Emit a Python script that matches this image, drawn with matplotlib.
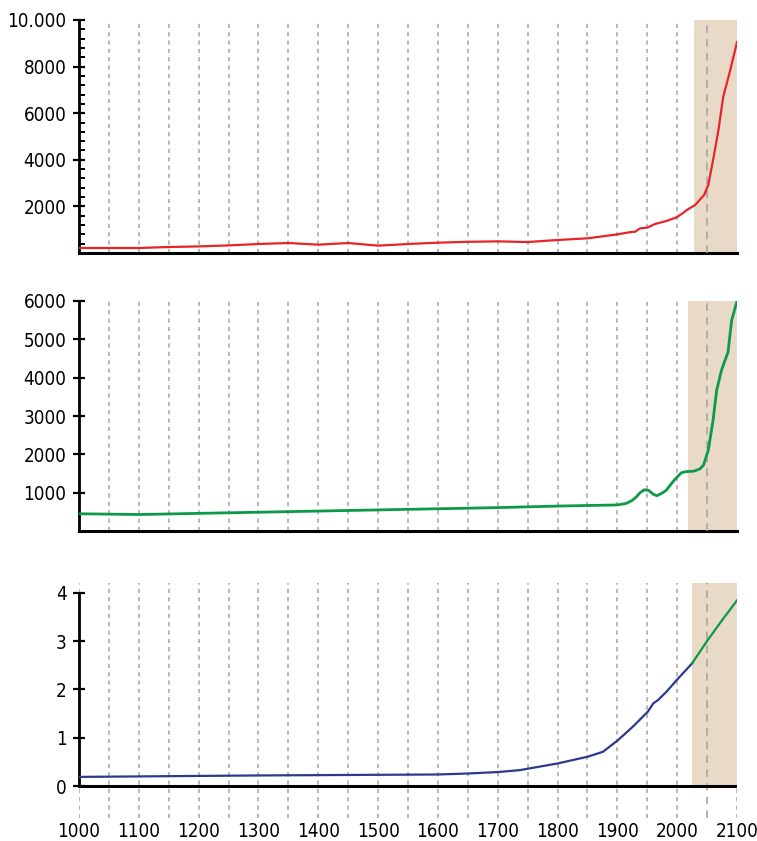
import matplotlib.pyplot as plt
from matplotlib.ticker import FixedLocator, FixedFormatter, MultipleLocator

plt.rcParams['font.family'] = ['DejaVu Sans']
plt.rcParams['font.stretch'] = 'condensed'

# top panel (red)
red_years = [1000, 1100, 1150, 1200, 1250, 1300, 1350, 1400, 1450, 1500, 1550, 1600,
             1650, 1700, 1750, 1800, 1850, 1900, 1920, 1930, 1938, 1950, 1963, 1982,
             1999, 2010, 2016, 2030, 2045, 2052, 2060, 2069, 2077, 2088, 2100]
red_vals = [215, 215, 257, 283, 326, 386, 429, 358, 429, 315, 386, 443,
            480, 500, 470, 558, 630, 800, 890, 915, 1060, 1087, 1245, 1373,
            1530, 1720, 1845, 2060, 2490, 2918, 3990, 5280, 6710, 7780, 9050]

# middle panel (green)
green_years = [1000, 1100, 1200, 1300, 1400, 1500, 1600, 1700, 1800, 1900, 1915,
               1925, 1932, 1938, 1945, 1952, 1960, 1966, 1975, 1982, 1996, 2007,
               2015, 2028, 2038, 2044, 2052, 2060, 2066, 2074, 2085, 2091, 2100]
green_vals = [450, 430, 460, 490, 520, 550, 580, 610, 650, 680, 720,
              800, 893, 1000, 1075, 1060, 960, 920, 990, 1068, 1346, 1520,
              1550, 1560, 1620, 1719, 2109, 2890, 3670, 4190, 4670, 5490, 6000]

# bottom panel: history (blue) and projection (green)
blue_years = [1000, 1300, 1600, 1650, 1700, 1737, 1801, 1851, 1876, 1901, 1926,
              1951, 1960, 1968, 1982, 1999, 2025]
blue_vals = [0.19, 0.22, 0.24, 0.26, 0.29, 0.33, 0.47, 0.61, 0.71, 0.95, 1.23,
             1.54, 1.71, 1.78, 1.95, 2.19, 2.54]
proj_years = [2025, 2050, 2075, 2100]
proj_vals = [2.54, 3.0, 3.43, 3.84]

grid_years = list(range(1000, 2101, 50))
x_labels = ['1000', '1100', '1200', '1300', '1400', '1500', '1600', '1700',
            '1800', '1900', '2000', '2100']

RED = '#e8232a'
GREEN = '#0c9a48'
BLUE = '#2b3990'
SHADE = '#e9dac8'
GRID = '#ababab'
FS = 13.5

fig = plt.figure(figsize=(7.57, 8.41), dpi=100)
W, H = 757, 841


def make_axes(top, bottom):
    return fig.add_axes([79 / W, (H - bottom) / H, 658 / W, (bottom - top) / H])


def decorate(ax, ymin, ymax, shade_start, shade_lo):
    ax.set_xlim(1000, 2100)
    ax.set_ylim(ymin, ymax)
    for yr in grid_years:
        if yr == 2050:
            continue
        ax.axvline(yr, color=GRID, lw=1.2, ls=(0, (2.5, 2.5)), zorder=1)
    lo = (shade_lo - ymin) / (ymax - ymin)
    ax.axvspan(shade_start, 2100, ymin=lo, ymax=1, color=SHADE, lw=0, zorder=2)
    ax.axvline(2050, color='#a0a0a0', lw=1.1, ls=(0, (5, 4)), zorder=3)
    for s in ['top', 'right']:
        ax.spines[s].set_visible(False)
    ax.spines['left'].set_linewidth(2)
    ax.spines['bottom'].set_linewidth(2.2)
    ax.tick_params(axis='y', which='major', direction='inout', length=8, width=1.6,
                   pad=5, labelsize=FS)
    ax.tick_params(axis='x', length=0)


# top panel
ax1 = make_axes(20, 253)
decorate(ax1, 0, 10000, 2028, 0)
ax1.plot(red_years, red_vals, color=RED, lw=1.6, zorder=5)
ax1.yaxis.set_major_locator(FixedLocator([2000, 4000, 6000, 8000, 10000]))
ax1.yaxis.set_major_formatter(FixedFormatter(['2000', '4000', '6000', '8000', '10.000']))
ax1.yaxis.set_minor_locator(MultipleLocator(400))
ax1.tick_params(axis='y', which='minor', direction='in', length=4, width=1.4)
ax1.set_xticklabels([])

# middle panel
ax2 = make_axes(301, 531)
decorate(ax2, 0, 6000, 2018, 0)
ax2.plot(green_years, green_vals, color=GREEN, lw=2, zorder=5)
ax2.set_yticks([1000, 2000, 3000, 4000, 5000, 6000])
ax2.set_xticklabels([])

# bottom panel, axis line drawn at zero with gridlines running below it
ax3 = make_axes(583, 818)
decorate(ax3, -0.66, 4.2, 2025, 0)
ax3.spines['bottom'].set_visible(False)
ax3.spines['left'].set_bounds(0, 4)
ax3.axhline(0, color='black', lw=2.2, zorder=6)
ax3.plot(blue_years, blue_vals, color=BLUE, lw=1.6, zorder=5)
ax3.plot(proj_years, proj_vals, color=GREEN, lw=1.6, zorder=5)
ax3.set_yticks([0, 1, 2, 3, 4])
ax3.set_xticks(list(range(1000, 2101, 100)))
ax3.set_xticklabels(x_labels)
ax3.tick_params(axis='x', labelsize=FS, pad=3)

fig.savefig('out.png', dpi=100)
